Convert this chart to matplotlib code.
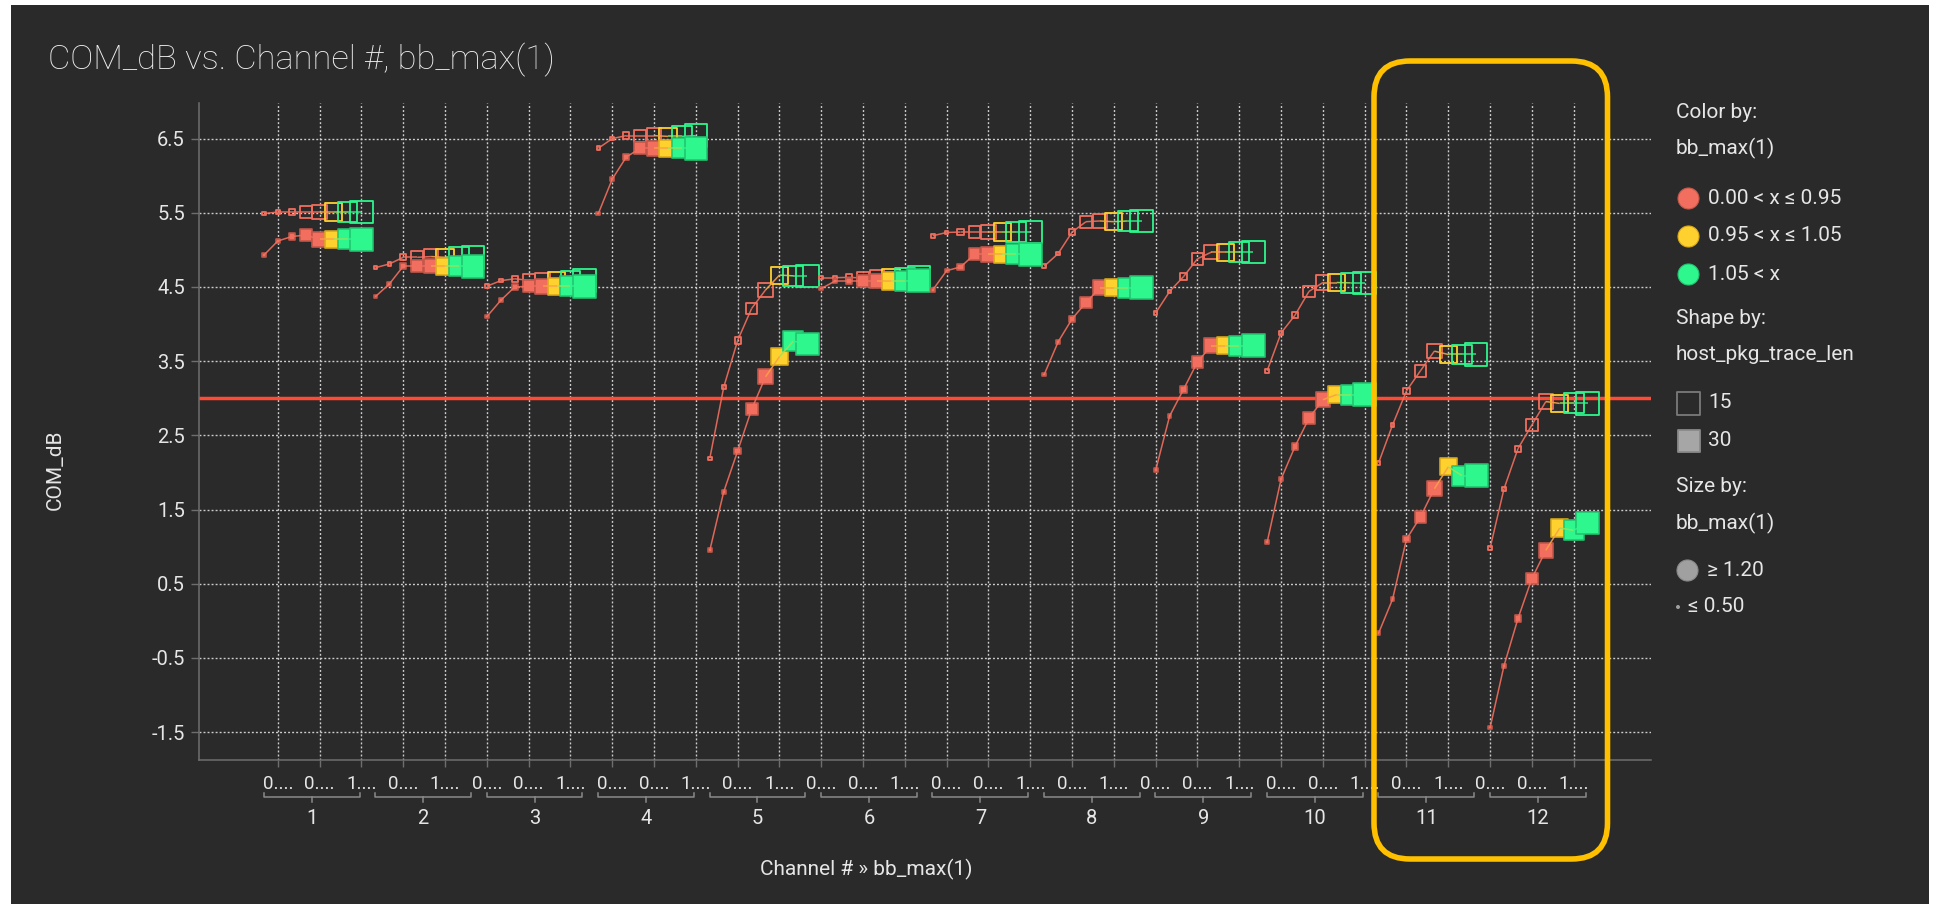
import numpy as np
import matplotlib
matplotlib.use("Agg")
import matplotlib.pyplot as plt
import matplotlib.transforms as mtransforms
from matplotlib.patches import FancyBboxPatch, Rectangle
from matplotlib.lines import Line2D
from matplotlib.collections import LineCollection
from matplotlib.colors import to_rgb

plt.rcParams['font.family'] = ['Roboto', 'DejaVu Sans']
plt.rcParams['axes.unicode_minus'] = False

W, H = 1941, 910

# ---------------- data ----------------
channels = ["1", "2", "3", "4", "5", "6", "7", "8", "9", "10", "11", "12"]
bb_max = [0.4, 0.5, 0.6, 0.8, 0.9, 1.0, 1.1, 1.2]

# COM_dB per channel, host_pkg_trace_len = 15 (hollow squares)
com_db_15 = [
    [5.49, 5.51, 5.51, 5.51, 5.51, 5.51, 5.51, 5.51],
    [4.76, 4.81, 4.90, 4.90, 4.91, 4.90, 4.90, 4.90],
    [4.51, 4.585, 4.61, 4.59, 4.585, 4.58, 4.58, 4.585],
    [6.37, 6.50, 6.54, 6.54, 6.54, 6.53, 6.53, 6.54],
    [2.19, 3.15, 3.78, 4.21, 4.46, 4.66, 4.65, 4.65],
    [4.625, 4.625, 4.63, 4.62, 4.63, 4.63, 4.625, 4.63],
    [5.19, 5.235, 5.24, 5.24, 5.24, 5.24, 5.24, 5.24],
    [4.78, 4.95, 5.24, 5.38, 5.39, 5.38, 5.39, 5.39],
    [4.15, 4.44, 4.64, 4.88, 4.97, 4.97, 4.97, 4.97],
    [3.37, 3.88, 4.12, 4.44, 4.56, 4.56, 4.555, 4.555],
    [2.13, 2.64, 3.10, 3.37, 3.635, 3.59, 3.59, 3.59],
    [0.98, 1.78, 2.32, 2.64, 2.955, 2.93, 2.93, 2.93],
]

# COM_dB per channel, host_pkg_trace_len = 30 (filled squares)
com_db_30 = [
    [4.93, 5.12, 5.18, 5.20, 5.14, 5.14, 5.14, 5.14],
    [4.37, 4.54, 4.78, 4.78, 4.78, 4.78, 4.78, 4.78],
    [4.10, 4.32, 4.50, 4.51, 4.51, 4.51, 4.51, 4.51],
    [5.49, 5.955, 6.25, 6.37, 6.37, 6.37, 6.37, 6.37],
    [0.95, 1.74, 2.29, 2.85, 3.29, 3.56, 3.77, 3.73],
    [4.48, 4.58, 4.58, 4.58, 4.58, 4.58, 4.58, 4.585],
    [4.46, 4.72, 4.77, 4.94, 4.94, 4.94, 4.94, 4.94],
    [3.32, 3.76, 4.07, 4.29, 4.49, 4.49, 4.49, 4.49],
    [2.03, 2.76, 3.12, 3.49, 3.71, 3.71, 3.71, 3.71],
    [1.06, 1.91, 2.35, 2.73, 2.98, 3.05, 3.05, 3.05],
    [-0.165, 0.29, 1.10, 1.40, 1.78, 2.075, 1.955, 1.955],
    [-1.44, -0.605, 0.03, 0.57, 0.95, 1.25, 1.22, 1.32],
]

sub_labels = [
    ["0....", "0....", "1...."], ["0....", "1...."], ["0....", "0....", "1...."],
    ["0....", "0....", "1...."], ["0....", "1...."], ["0....", "0....", "1...."],
    ["0....", "0....", "1...."], ["0....", "1...."], ["0....", "0....", "1...."],
    ["0....", "0....", "1...."], ["0....", "1...."], ["0....", "0....", "1...."],
]

y_ticks = [-1.5, -0.5, 0.5, 1.5, 2.5, 3.5, 4.5, 5.5, 6.5]
threshold = 3.0

# ---------------- style ----------------
PANEL = "#2a2a2a"
TXT = "#e6e6e6"
GRID = "#cdcdcd"
SPINE = "#6e6e6e"
RED, YEL, GRN = "#f26e5e", "#ffd12e", "#2ef78d"
RED_E, YEL_E, GRN_E = "#c4574a", "#d9a91a", "#22c46f"
PX = 0.72  # points per pixel at dpi 100


def color_of(v):
    if v <= 0.95:
        return RED, RED_E
    if v <= 1.05:
        return YEL, YEL_E
    return GRN, GRN_E


def side_px(v):
    v = min(max(v, 0.5), 1.2)
    return 4.5 + 19 * (v - 0.5) / 0.7


def mix(c1, c2):
    a, b = np.array(to_rgb(c1)), np.array(to_rgb(c2))
    return tuple((a + b) / 2)


fig = plt.figure(figsize=(W / 100, H / 100), dpi=100, facecolor="white")
fig.add_artist(Rectangle((11 / W, 6 / H), (1929 - 11) / W, (905 - 6) / H,
                         transform=fig.transFigure, facecolor=PANEL,
                         edgecolor="none", zorder=-100))

ax_l, ax_r, ax_t, ax_b = 199, 1651, 103, 759.5
ax = fig.add_axes([ax_l / W, 1 - ax_b / H, (ax_r - ax_l) / W, (ax_b - ax_t) / H])
ax.set_facecolor("none")
ax_h_px = ax_b - ax_t

n_ch = len(channels)
ax.set_xlim(-0.52, n_ch + 0.506)
ax.set_ylim(-1.87, 6.98)

# category ticks (evenly spread over the channel band)
n_cat = sum(len(s) for s in sub_labels)
cat_pos = [(j + 0.5) * n_ch / n_cat for j in range(n_cat)]
ax.set_xticks(cat_pos)
ax.set_xticklabels([])
ax.set_yticks(y_ticks)
ax.set_yticklabels([f"{t:.1f}" for t in y_ticks])

ax.grid(True, color=GRID, linestyle=(0, (1.4, 1.5)), linewidth=1.0, zorder=0)
ax.set_axisbelow(True)
for s in ["top", "right"]:
    ax.spines[s].set_visible(False)
for s in ["left", "bottom"]:
    ax.spines[s].set_color(SPINE)
    ax.spines[s].set_linewidth(1.1)
ax.tick_params(axis="x", length=5, width=1.0, color=SPINE)
ax.tick_params(axis="y", length=5.8, width=1.0, color=SPINE, pad=4.3,
               labelsize=14.5, labelcolor=TXT)

ax.axhline(threshold, color="#ff4a36", lw=2.5, zorder=2)

# ---------------- series ----------------
n_pts = len(bb_max)
for k in range(n_ch):
    xs = [k + (i + 0.5) / n_pts for i in range(n_pts)]
    for series, filled, zb in ((com_db_15, False, 3), (com_db_30, True, 5)):
        ys = series[k]
        faces = [color_of(v)[0] for v in bb_max]
        edges = [color_of(v)[1] for v in bb_max]
        if filled:
            lw_px = 1.6
            sizes = [((side_px(v) - 0.5 * lw_px) * PX) ** 2 for v in bb_max]
            ax.scatter(xs, ys, s=sizes, marker="s", c=faces, edgecolors=edges,
                       linewidths=lw_px * PX, zorder=zb)
        else:
            lw_px = 1.8
            sizes = [((side_px(v) - 0.5 * lw_px) * PX) ** 2 for v in bb_max]
            ax.scatter(xs, ys, s=sizes, marker="s", facecolors="none",
                       edgecolors=faces, linewidths=lw_px * PX, zorder=zb)
        segs = [[(xs[i], ys[i]), (xs[i + 1], ys[i + 1])] for i in range(n_pts - 1)]
        seg_cols = [mix(faces[i], faces[i + 1]) for i in range(n_pts - 1)]
        ax.add_collection(LineCollection(segs, colors=seg_cols, linewidths=1.1,
                                         alpha=0.9, zorder=zb + 0.5))

# ---------------- hierarchical x labels ----------------
trans = mtransforms.blended_transform_factory(ax.transData, ax.transAxes)


def yfrac(px_below):
    return -px_below / ax_h_px


j = 0
for k, labs in enumerate(sub_labels):
    for lab in labs:
        ax.text(cat_pos[j], yfrac(24.2), lab, transform=trans, ha="center",
                va="center", fontsize=13.5, color=TXT, clip_on=False)
        j += 1
    x0, x1, xc = k + 0.06, k + 0.92, k + 0.49
    br = "#8a8a8a"
    ax.add_line(Line2D([x0, x0, x1, x1], [yfrac(33.5), yfrac(37.8), yfrac(37.8), yfrac(33.5)],
                       transform=trans, color=br, lw=1.1, clip_on=False))
    ax.add_line(Line2D([xc, xc], [yfrac(37.8), yfrac(42)], transform=trans,
                       color=br, lw=1.1, clip_on=False))
    ax.text(xc, yfrac(59.2), channels[k], transform=trans, ha="center",
            va="center", fontsize=14.5, color=TXT, clip_on=False)

# ---------------- titles ----------------
fig.text(47.8 / W, 1 - 69.3 / H, "COM_dB vs. Channel #, bb_max(1)", fontsize=24.8,
         fontweight="light", color="#f0f0f0", ha="left", va="baseline")
fig.text(866.5 / W, 1 - 869.3 / H, "Channel # \u00bb bb_max(1)", fontsize=15,
         color=TXT, ha="center", va="center")
fig.text(55 / W, 1 - 470 / H, "COM_dB", fontsize=15, color=TXT, rotation=90,
         ha="center", va="center")

# ---------------- overlay: legend and highlight ----------------
ov = fig.add_axes([0, 0, 1, 1])
ov.set_xlim(0, W)
ov.set_ylim(H, 0)
ov.set_axis_off()
ov.patch.set_visible(False)
ov.set_zorder(10)

ov.add_patch(FancyBboxPatch((1374, 61), 233.5, 798,
                            boxstyle="round,pad=0,rounding_size=36",
                            facecolor="none", edgecolor="#ffc000", lw=4.0))

LX, MX, TX = 1676, 1688, 1708
fs = 15
for y, s in ((113, "Color by:"), (148.6, "bb_max(1)"), (318.6, "Shape by:"),
             (355, "host_pkg_trace_len"), (487, "Size by:"), (523, "bb_max(1)")):
    ov.text(LX, y, s, fontsize=fs, color=TXT, ha="left", va="center")

for y, c, ec, s in ((198, RED, RED_E, "0.00 < x \u2264 0.95"),
                    (235.7, YEL, YEL_E, "0.95 < x \u2264 1.05"),
                    (274, GRN, GRN_E, "1.05 < x")):
    ov.scatter([MX], [y], s=(21 * PX) ** 2, c=c, edgecolors=ec, linewidths=0.8)
    ov.text(TX, y, s, fontsize=fs, color=TXT, ha="left", va="center")

ov.scatter([MX + 0.5], [403], s=(23 * PX) ** 2, marker="s", facecolors="none",
           edgecolors="#7a7a7a", linewidths=1.3)
ov.text(TX, 403, "15", fontsize=fs, color=TXT, ha="left", va="center")
ov.scatter([MX + 0.5], [440.7], s=(23 * PX) ** 2, marker="s", c="#a6a6a6",
           edgecolors="#8a8a8a", linewidths=1.3)
ov.text(TX, 440.7, "30", fontsize=fs, color=TXT, ha="left", va="center")

ov.scatter([MX - 1], [570], s=(21 * PX) ** 2, c="#a0a0a0", edgecolors="#8a8a8a",
           linewidths=0.8)
ov.text(TX - 1, 570, "\u2265 1.20", fontsize=fs, color=TXT, ha="left", va="center")
ov.scatter([1678], [607], s=(4 * PX) ** 2, c="#a0a0a0", edgecolors="none")
ov.text(1688, 607, "\u2264 0.50", fontsize=fs, color=TXT, ha="left", va="center")

fig.savefig("out.png", dpi=100, facecolor=fig.get_facecolor())
